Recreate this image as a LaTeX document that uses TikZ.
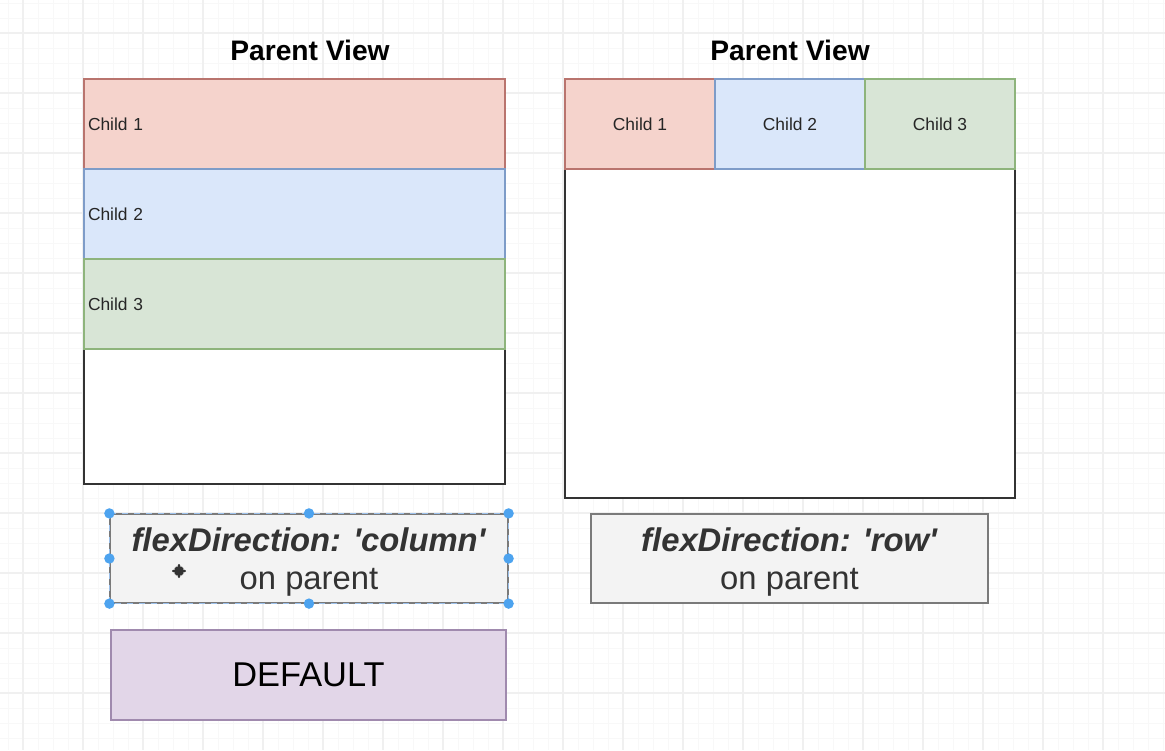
\documentclass[tikz,border=0pt]{standalone}
\usepackage{fontspec}
\setmainfont{Liberation Sans}
\usetikzlibrary{arrows,calc,positioning}
\definecolor{gridminor}{HTML}{F8F8F8}
\definecolor{gridmajor}{HTML}{F0F0F0}
\definecolor{parentline}{HTML}{333333}
\definecolor{redfill}{HTML}{F5D3CC}
\definecolor{redline}{HTML}{B9746E}
\definecolor{bluefill}{HTML}{DAE7FA}
\definecolor{blueline}{HTML}{7E9CC8}
\definecolor{greenfill}{HTML}{D8E5D6}
\definecolor{greenline}{HTML}{8EB47C}
\definecolor{notefill}{HTML}{F3F3F3}
\definecolor{noteline}{HTML}{7A7A7A}
\definecolor{notetext}{HTML}{333333}
\definecolor{purplefill}{HTML}{E2D6E8}
\definecolor{purpleline}{HTML}{A08AAE}
\definecolor{handle}{HTML}{4DA3EF}
\definecolor{selectline}{HTML}{9CC0EA}
\tikzset{
%Define standard arrow tip
>=stealth',
%Define styles for the background grid
grid minor/.style={gridminor, line width=0.5pt},
grid major/.style={gridmajor, line width=0.7pt},
%Define styles for the boxes
parent box/.style={draw=parentline, line width=0.75pt, fill=white, inner sep=0pt, outer sep=0pt},
child box/.style={line width=0.75pt, outer sep=0pt, minimum height=45pt, text=black!85,
  font=\fontsize{8.7pt}{10pt}\selectfont},
red child/.style={child box, fill=redfill, draw=redline},
blue child/.style={child box, fill=bluefill, draw=blueline},
green child/.style={child box, fill=greenfill, draw=greenline},
column child/.style={minimum width=210.5pt, text width=206.5pt, inner xsep=2pt, align=left},
row child/.style={minimum width=75pt, inner sep=0pt},
title/.style={font=\fontsize{14.1pt}{17pt}\selectfont\bfseries},
note box/.style={fill=notefill, draw=noteline, line width=0.6pt, minimum width=199pt,
  minimum height=44.5pt, align=center, text depth=0pt, text=notetext,
  font=\fontsize{16.4pt}{19pt}\selectfont},
default box/.style={fill=purplefill, draw=purpleline, line width=0.6pt, minimum width=197.5pt,
  minimum height=45pt, text depth=0pt, font=\fontsize{17.2pt}{20pt}\selectfont},
selection/.style={selectline, dashed, line width=0.6pt},
grip/.style={fill=handle, draw=none},
cursor arrow/.style={<->, line width=0.9pt, black!80},
}

\begin{document}
\begin{tikzpicture}[x=0.5pt, y=-0.5pt]
\useasboundingbox (0,0) rectangle (1165,750);
% Draw background grid
\foreach \x in {8,23,...,1163} \draw[grid minor] (\x,0) -- (\x,750);
\foreach \y in {3,18,...,738} \draw[grid minor] (0,\y) -- (1165,\y);
\foreach \x in {23,83,...,1103} \draw[grid major] (\x,0) -- (\x,750);
\foreach \y in {33,93,...,693} \draw[grid major] (0,\y) -- (1165,\y);

% Left parent view, children stacked as a column
\node[title] (titleL) at (310,50) {Parent View};
\node[parent box, minimum width=210.5pt, minimum height=202.5pt] (parentL) at (294.5,281.5) {};
\node[red child, column child] (lc1) at (294.5,124) {Child 1};
\node[blue child, column child, below=0pt of lc1] (lc2) {Child 2};
\node[green child, column child, below=0pt of lc2] (lc3) {Child 3};

% Right parent view, children side by side in a row
\node[title] (titleR) at (790,50) {Parent View};
\node[parent box, minimum width=225pt, minimum height=209.5pt] (parentR) at (790,288.5) {};
\node[red child, row child] (rc1) at (640,124) {Child 1};
\node[blue child, row child, right=0pt of rc1] (rc2) {Child 2};
\node[green child, row child, right=0pt of rc2] (rc3) {Child 3};

% Notes under the views
\node[note box] (noteL) at (309,558.5)
  {\textbf{\itshape flexDirection: \textquotesingle column\textquotesingle}\\on parent};
\node[note box, minimum width=198.5pt] (noteR) at (789.5,558.5)
  {\textbf{\itshape flexDirection: \textquotesingle row\textquotesingle}\\on parent};
\node[default box] (default) at (308.5,675) {DEFAULT};

% Selection frame with grips round the left note
\draw[selection] (noteL.north west) rectangle (noteL.south east);
\foreach \a in {north west,north,north east,west,east,south west,south,south east}
  \fill[grip] (noteL.\a) circle (2.6pt);

% Move cursor
\coordinate (cursor) at (179,571);
\draw[cursor arrow] ($(cursor)+(-7,0)$) -- ($(cursor)+(7,0)$);
\draw[cursor arrow] ($(cursor)+(0,-7)$) -- ($(cursor)+(0,7)$);
\end{tikzpicture}
\end{document}
